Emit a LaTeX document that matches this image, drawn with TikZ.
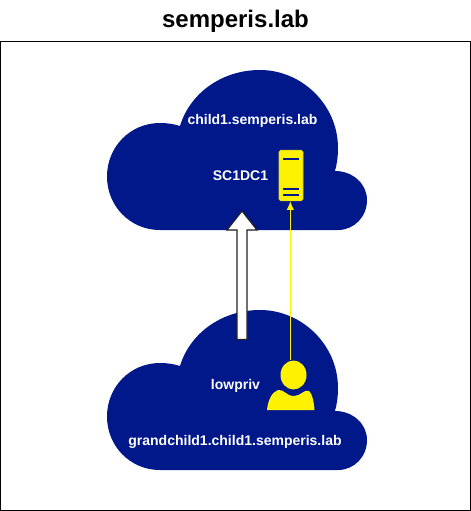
\documentclass[tikz,border=0pt]{standalone}
\usepackage{fontspec}
\setmainfont{Liberation Sans}
\usetikzlibrary{arrows.meta,shapes.geometric}
\definecolor{navy}{HTML}{00188A}
\definecolor{arrowedge}{HTML}{222222}
\tikzset{
  cloudshape/.style={fill=navy,draw=none},
  lab/.style={text=white,font=\fontsize{10.5pt}{12pt}\selectfont\bfseries,inner sep=0pt},
  titlelab/.style={text=black,font=\fontsize{18pt}{21pt}\selectfont\bfseries,inner sep=0pt},
  bar/.style={draw=navy,line width=1.5pt},
  yel/.style={fill=yellow,draw=none},
  link/.style={draw=yellow,line width=0.75pt,-{Latex[length=6.5pt,width=5.5pt]}},
  blockarrow/.style={fill=white,draw=arrowedge,line width=0.9pt,line join=miter}
}
\newcommand{\cloudat}[1]{%
  \fill[cloudshape,yshift=#1] (160,230) .. controls (130,230) and (107,206) .. (107,176.5)
    .. controls (107,147) and (130,123) .. (160,123)
    .. controls (167,123) and (174,124) .. (180,126)
    .. controls (190,93) and (222,70) .. (260,70)
    .. controls (302,70) and (338,105) .. (338,148)
    .. controls (338,156) and (337,164) .. (335,171)
    .. controls (353,171) and (367,184) .. (367,200)
    .. controls (367,217) and (354,230) .. (338,230) -- cycle;}
\begin{document}
\begin{tikzpicture}[x=0.75pt,y=-0.75pt]
\useasboundingbox (0,0) rectangle (471,511);
\draw[black,line width=0.75pt] (0.5,41) rectangle (470.5,510.5);
\node[titlelab] (title) at (235.5,21.5) {semperis.lab};
\cloudat{0pt}
\cloudat{-180pt}
\draw[blockarrow] (242,211) -- (257,230) -- (247,230) -- (247,339.5) -- (237,339.5) -- (237,230) -- (227,230) -- cycle;
\node[lab] (top) at (252.5,121) {child1.semperis.lab};
\node[lab] (dc) at (240.5,176) {SC1DC1};
\node[lab] (low) at (235.5,386) {lowpriv};
\node[lab] (bottom) at (235,441.5) {grandchild1.child1.semperis.lab};
\node[fill=yellow,draw=yellow!85!black,line width=0.5pt,rounded corners=1.2pt,minimum width=18pt,minimum height=38pt,inner sep=0pt] (server) at (291,175.5) {};
\draw[bar] (283,158.5) -- (299,158.5);
\draw[bar] (283,189) -- (299,189);
\draw[bar] (283,194.5) -- (299,194.5);
\node[yel,ellipse,minimum width=19.5pt,minimum height=21.75pt,inner sep=0pt] (head) at (293.5,375) {};
\fill[yellow] (267,410) .. controls (268,400) and (272,392) .. (278,390)
  .. controls (284,389) and (286,396) .. (294,396)
  .. controls (301,396) and (304,389) .. (309,391)
  .. controls (312,393) and (314,402) .. (314.5,410) -- cycle;
\draw[link] ([xshift=-0.5pt]server.south |- head.north) -- ([xshift=-0.5pt]server.south);
\end{tikzpicture}
\end{document}
